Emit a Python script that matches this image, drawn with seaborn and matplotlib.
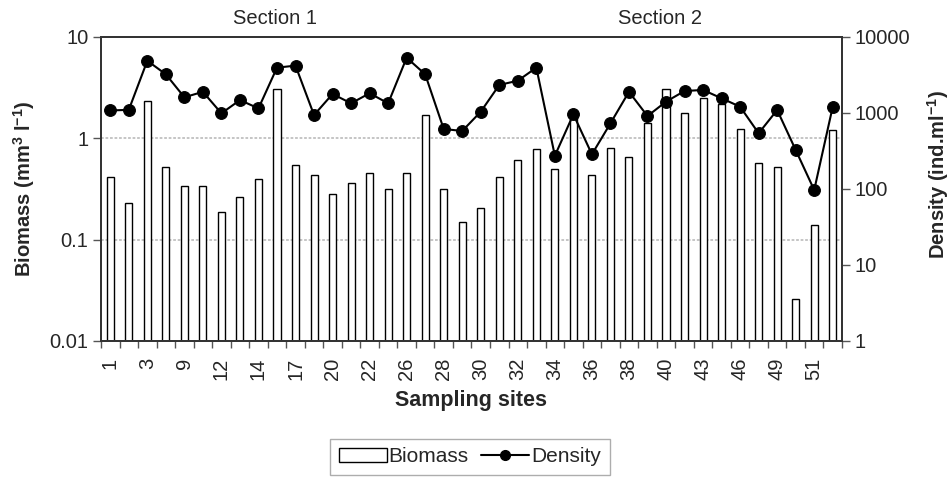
import numpy as np
import pandas as pd
import matplotlib
matplotlib.use("Agg")
import matplotlib.pyplot as plt
import seaborn as sns
from matplotlib.ticker import FixedLocator, NullLocator, FuncFormatter
from matplotlib.patches import Patch
from matplotlib.lines import Line2D

# ---- data ----
tick_labels = ["1", "3", "9", "12", "14", "17", "20", "22", "26", "28",
               "30", "32", "34", "36", "38", "40", "43", "46", "49", "51"]
biomass = [0.42, 0.23, 2.34, 0.52, 0.34, 0.34, 0.186, 0.265, 0.40, 3.06,
           0.55, 0.43, 0.285, 0.36, 0.46, 0.315, 0.45, 1.70, 0.315, 0.15,
           0.206, 0.42, 0.615, 0.79, 0.50, 1.76, 0.43, 0.81, 0.66, 1.42,
           3.1, 1.77, 2.49, 2.17, 1.25, 0.57, 0.52, 0.026, 0.14, 1.21]
density = [1080, 1100, 4870, 3230, 1610, 1900, 990, 1480, 1150, 3950,
           4200, 940, 1780, 1340, 1820, 1340, 5340, 3230, 616, 580,
           1040, 2340, 2660, 3950, 274, 960, 286, 731, 1900, 912,
           1410, 1946, 2010, 1560, 1210, 541, 1095, 326, 97, 1210]
section_names = ["Section 1", "Section 2"]

pos = np.arange(len(biomass))
df = pd.DataFrame({"pos": pos, "biomass": biomass, "density": density})

sns.set_style("white")
plt.rcParams["font.family"] = ["Liberation Sans", "DejaVu Sans"]
plt.rcParams["mathtext.fontset"] = "custom"
plt.rcParams["mathtext.rm"] = "Liberation Sans"
plt.rcParams["mathtext.bf"] = "Liberation Sans:bold"
FS = 14.5

fig = plt.figure(figsize=(9.53, 4.79), dpi=100)
ax = fig.add_axes([101 / 953, 1 - 341 / 479, 741 / 953, 304 / 479])
ax2 = ax.twinx()

ax.set_yscale("log")
sns.barplot(data=df, x="pos", y="biomass", ax=ax, color="white", saturation=1,
            edgecolor="black", linewidth=1.0, width=0.38, zorder=2)
ax.set_ylim(0.01, 10)
ax.set_xlim(-0.5, len(biomass) - 0.5)

ax2.set_yscale("log")
sns.lineplot(data=df, x="pos", y="density", ax=ax2, color="black", marker="o",
             markersize=8.5, markeredgecolor="black", linewidth=1.5)
ax2.set_ylim(1, 10000)
ax2.set_xlim(-0.5, len(biomass) - 0.5)

# y axes ticks
fmt = FuncFormatter(lambda v, p: f"{v:g}")
ax.yaxis.set_major_locator(FixedLocator([0.01, 0.1, 1, 10]))
ax.yaxis.set_minor_locator(NullLocator())
ax.yaxis.set_major_formatter(fmt)
ax2.yaxis.set_major_locator(FixedLocator([1, 10, 100, 1000, 10000]))
ax2.yaxis.set_minor_locator(NullLocator())
ax2.yaxis.set_major_formatter(fmt)
ax.tick_params(axis="y", left=True, length=6, width=1, labelsize=FS, pad=3, color="#555555")
ax2.tick_params(axis="y", right=True, length=6, width=1, labelsize=FS, pad=3, color="#555555")

# x axis: labels at every other bar, tick marks at bar boundaries
ax.set_xticks(pos[::2])
ax.set_xticklabels(tick_labels, rotation=90, fontsize=FS)
ax.set_xticks(np.arange(-0.5, len(biomass) + 0.5, 1), minor=True)
ax.tick_params(axis="x", which="major", length=0, pad=12)
ax.tick_params(axis="x", which="minor", bottom=True, length=5, width=1, color="#555555")
ax2.tick_params(axis="x", bottom=False, labelbottom=False)

# grid
ax.set_axisbelow(True)
ax.yaxis.grid(True, color="#c0c0c0", linestyle=(0, (1.5, 1)), linewidth=1.3)
ax.xaxis.grid(False)

for a in (ax, ax2):
    for s in a.spines.values():
        s.set_color("#333333")
        s.set_linewidth(1.3)

ax.set_xlabel("Sampling sites", fontsize=15.5, fontweight="bold")
ax.xaxis.set_label_coords(0.5, -0.162)
ax.set_ylabel(r"Biomass (mm$^{\mathbf{3}}$ l$^{\mathbf{-1}}$)", fontsize=FS, fontweight="bold")
ax.yaxis.set_label_coords(-0.086, 0.5)
ax2.set_ylabel(r"Density (ind.ml$^{\mathbf{-1}}$)", fontsize=FS, fontweight="bold")
ax2.yaxis.set_label_coords(1.112, 0.546)

fig.text(275 / 953, 1 - 18 / 479, section_names[0], fontsize=FS, ha="center", va="center")
fig.text(660 / 953, 1 - 18 / 479, section_names[1], fontsize=FS, ha="center", va="center")

handles = [Patch(facecolor="white", edgecolor="black", linewidth=1.0),
           Line2D([], [], color="black", marker="o", markersize=7, linewidth=1.5)]
leg = fig.legend(handles, ["Biomass", "Density"], loc="upper center",
                 bbox_to_anchor=(470 / 953, 1 - 439 / 479), ncol=2, fontsize=15,
                 frameon=True, fancybox=False, edgecolor="#999999",
                 handlelength=2.3, handletextpad=0.1, columnspacing=0.6,
                 borderpad=0.4, borderaxespad=0)
leg.get_frame().set_linewidth(1.0)

fig.savefig("out.png", dpi=100)
